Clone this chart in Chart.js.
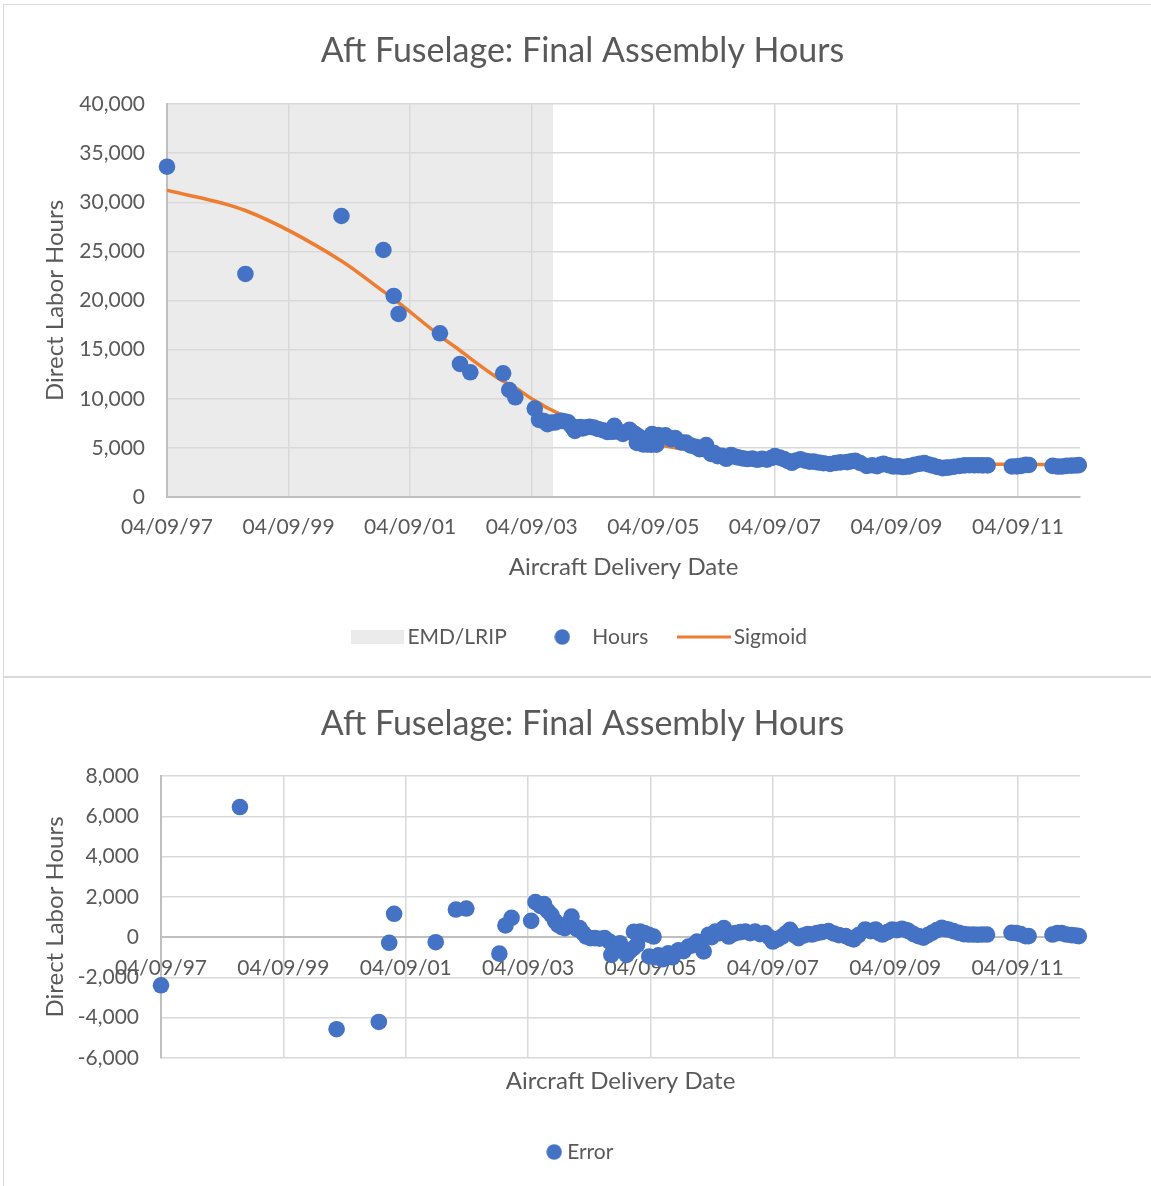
<!DOCTYPE html>
<html>
<head>
<meta charset="utf-8">
<script src="https://cdn.jsdelivr.net/npm/chart.js@4.4.0/dist/chart.umd.min.js"></script>
<style>
html,body{margin:0;padding:0;background:#fff;overflow:hidden;width:1151px;height:1186px;}
#box1{position:absolute;left:3px;top:4px;width:1200px;height:673px;border:1px solid #d9d9d9;box-sizing:border-box;}
#box2{position:absolute;left:3px;top:677px;width:1200px;height:600px;border:1px solid #d9d9d9;box-sizing:border-box;}
#c1{position:absolute;left:0;top:0;}
#c2{position:absolute;left:0;top:677px;}
</style>
</head>
<body>
<div id="box1"></div>
<div id="box2"></div>
<canvas id="c1" width="1160" height="676" style="width:1160px;height:676px"></canvas>
<canvas id="c2" width="1160" height="509" style="width:1160px;height:509px"></canvas>
<script>
// x values: years after first delivery (04/09/97)
const deliveryYears = [0.00,1.29,2.87,3.56,3.73,3.81,4.49,4.82,4.99,5.53,5.63,5.73,
6.05,6.12,6.20,6.26,6.32,6.38,6.44,6.49,6.55,6.60,6.66,6.71,6.76,6.80,6.84,6.90,6.95,
7.02,7.09,7.17,7.25,7.33,7.36,7.42,7.50,7.56,7.61,7.66,7.72,7.73,7.78,7.83,7.90,7.97,7.98,
8.05,8.08,8.13,8.20,8.29,8.36,8.46,8.54,8.62,8.70,8.76,8.82,8.87,8.95,
9.00,9.06,9.13,9.20,9.28,9.34,9.39,9.47,9.55,9.63,9.71,9.79,9.87,9.94,
10.00,10.08,10.15,10.22,10.28,10.35,10.42,10.50,10.57,10.64,10.72,10.80,10.91,
11.00,11.08,11.19,11.26,11.32,11.40,11.51,11.60,11.68,11.74,11.79,11.87,11.95,
12.03,12.11,12.18,12.22,12.30,12.38,12.46,12.53,12.60,12.68,12.76,12.82,12.87,12.95,
13.04,13.12,13.20,13.28,13.35,13.42,13.50,13.90,13.98,
14.05,14.13,14.18,14.57,14.65,14.72,14.80,14.88,14.95,15.00];

const hours = [33620,22700,28600,25140,20460,18630,16660,13540,12690,12590,10890,10150,
9005,7850,7724,7420,7575,7580,7705,7745,7685,7596,7185,6735,7100,7129,6985,7092,7150,
7075,6928,6797,6610,6635,7240,6655,6421,6625,6827,6570,6334,5500,6078,5350,5336,5326,6395,
5320,6315,6156,6277,5880,6010,5562,5538,5237,5099,4870,4903,5275,4387,
4471,4150,4185,3890,4263,4108,4029,3936,3864,3904,3786,3880,3794,3965,
4161,4011,3855,3660,3480,3716,3844,3690,3600,3600,3509,3438,3362,
3461,3525,3554,3640,3693,3463,3162,3228,3136,3307,3370,3239,3098,
3117,3047,3099,3144,3286,3377,3450,3313,3192,3050,2934,2989,3005,3079,
3157,3216,3232,3227,3233,3219,3214,3111,3122,
3169,3266,3264,3171,3099,3097,3165,3193,3211,3240];

const sigmoid = [31230,29160,24030,20930,20180,19790,16410,14910,14110,11770,11470,11110,
9815,9590,9274,9060,8875,8690,8505,8355,8185,8046,7885,7755,7630,7529,7435,7292,7180,
7025,6878,6717,6560,6415,6360,6255,6121,6025,5947,5870,5784,5770,5698,5630,5536,5446,5435,
5350,5315,5256,5177,5080,5010,4912,4838,4767,4699,4650,4603,4565,4507,
4471,4430,4385,4340,4293,4258,4229,4186,4144,4104,4066,4030,3994,3965,
3941,3911,3885,3860,3840,3816,3794,3770,3750,3730,3709,3688,3662,
3641,3625,3604,3590,3578,3563,3542,3528,3516,3507,3500,3489,3478,
3467,3457,3449,3444,3436,3427,3420,3413,3407,3400,3394,3389,3385,3379,
3372,3366,3362,3357,3353,3349,3344,3326,3322,
3319,3316,3314,3301,3299,3297,3295,3293,3291,3290];

const errors = [-2390,6460,-4570,-4210,-280,1160,-250,1370,1420,-820,580,960,
810,1740,1550,1640,1300,1110,800,610,500,450,700,1020,530,400,450,200,30,
-50,-50,-80,-50,-220,-880,-400,-300,-600,-880,-700,-550,270,-380,280,200,120,-960,
30,-1000,-900,-1100,-800,-1000,-650,-700,-470,-400,-220,-300,-710,120,
0,280,200,450,30,150,200,250,280,200,280,150,200,0,
-220,-100,30,200,360,100,-50,80,150,130,200,250,300,
180,100,50,-50,-115,100,380,300,380,200,130,250,380,
350,410,350,300,150,50,-30,100,215,350,460,400,380,300,
215,150,130,130,120,130,130,215,200,
150,50,50,130,200,200,130,100,80,50];

// EMD/LRIP shaded period
const emdYears = [0, 6.35];
const emdLevel = [40000, 40000];

const dateTicks = ['04/09/97','04/09/99','04/09/01','04/09/03','04/09/05','04/09/07','04/09/09','04/09/11'];
const xMax = 15.02;

const BLUE = '#4472c4', ORANGE = '#ed7d31', SHADE = '#ebebeb';
const GRID = '#d9d9d9', AXIS = '#bfbfbf', TEXT = '#595959';

function icon(w, h, draw) {
  const c = document.createElement('canvas');
  c.width = w; c.height = h;
  draw(c.getContext('2d'));
  return c;
}

function build() {
  Chart.defaults.font.family = "Lato, 'Open Sans', sans-serif";
  Chart.defaults.color = TEXT;

  const emdIcon = icon(53, 14, g => { g.fillStyle = SHADE; g.fillRect(0, 0, 53, 14); });
  const dotIcon = icon(16, 16, g => { g.fillStyle = BLUE; g.beginPath(); g.arc(8, 8, 7.7, 0, Math.PI * 2); g.fill(); });
  const lineIcon = icon(54, 4, g => { g.fillStyle = ORANGE; g.fillRect(0, 0.5, 54, 3); });

  const skipZero = ctx => (ctx.tick && ctx.tick.value === 0) ? 'rgba(0,0,0,0)' : GRID;
  const dateLabel = v => dateTicks[Math.round(v / 2)];
  const numLabel = v => Number(v).toLocaleString('en-US');
  const item = (text, img, i) => ({text, pointStyle: img, fillStyle: 'rgba(0,0,0,0)', strokeStyle: 'rgba(0,0,0,0)', lineWidth: 0, hidden: false, datasetIndex: i, fontColor: TEXT});
  const PADL = 5;

  // ---------- top chart ----------
  new Chart(document.getElementById('c1'), {
    type: 'scatter',
    data: {
      datasets: [
        { type: 'line', label: 'EMD/LRIP', data: emdYears.map((x, i) => ({x, y: emdLevel[i]})),
          fill: 'origin', backgroundColor: SHADE, borderColor: 'rgba(0,0,0,0)', borderWidth: 0,
          pointRadius: 0, showLine: true, order: 3 },
        { type: 'scatter', label: 'Hours', data: deliveryYears.map((x, i) => ({x, y: hours[i]})),
          pointRadius: 8.3, pointHoverRadius: 8.3, backgroundColor: BLUE, borderColor: BLUE,
          pointBorderWidth: 0, order: 1, clip: false },
        { type: 'line', label: 'Sigmoid', data: deliveryYears.map((x, i) => ({x, y: sigmoid[i]})),
          borderColor: ORANGE, borderWidth: 3.5, pointRadius: 0, fill: false, showLine: true,
          cubicInterpolationMode: 'monotone', order: 2 }
      ]
    },
    options: {
      responsive: false, animation: false, events: [],
      layout: { padding: { top: 0, left: PADL, right: 0, bottom: 18.5 } },
      plugins: {
        filler: { drawTime: 'beforeDraw' },
        tooltip: { enabled: false },
        title: { display: true, text: 'Aft Fuselage: Final Assembly Hours', color: TEXT,
          font: { size: 34, weight: 'normal' }, padding: { top: 30.6, bottom: 32.6 } },
        legend: { position: 'bottom',
          labels: { usePointStyle: true, pointStyleWidth: 39, padding: 36, color: TEXT,
            font: { size: 21 },
            generateLabels: () => [item('EMD/LRIP', emdIcon, 0), item('Hours', dotIcon, 1), item('Sigmoid', lineIcon, 2)] } }
      },
      scales: {
        x: { type: 'linear', min: 0, max: xMax,
          afterFit: s => { s.height = 93.5; },
          ticks: { stepSize: 2, includeBounds: false, padding: 17.4, maxRotation: 0, autoSkip: false,
            font: { size: 21 }, color: TEXT, callback: dateLabel },
          grid: { color: skipZero, lineWidth: 1.5, drawTicks: false },
          border: { color: AXIS, width: 2 },
          title: { display: true, text: 'Aircraft Delivery Date', color: TEXT, font: { size: 24 }, padding: { top: 0, bottom: 9.1 } } },
        y: { type: 'linear', min: 0, max: 40000,
          afterFit: s => { s.width = 167 - PADL; },
          ticks: { stepSize: 5000, padding: 22, font: { size: 21 }, color: TEXT, callback: numLabel },
          grid: { color: skipZero, lineWidth: 1.5, drawTicks: false },
          border: { color: AXIS, width: 2 },
          title: { display: true, text: 'Direct Labor Hours', color: TEXT, font: { size: 24 }, padding: { top: 40.6 - PADL, bottom: 0 } } },
        yR: { type: 'linear', position: 'right', display: true,
          afterFit: s => { s.width = 80; },
          grid: { display: false }, ticks: { display: false }, border: { display: false } }
      }
    }
  });

  // ---------- bottom chart ----------
  new Chart(document.getElementById('c2'), {
    type: 'scatter',
    data: {
      datasets: [
        { type: 'scatter', label: 'Error', data: deliveryYears.map((x, i) => ({x, y: errors[i]})),
          pointRadius: 8.3, pointHoverRadius: 8.3, backgroundColor: BLUE, borderColor: BLUE,
          pointBorderWidth: 0, clip: false }
      ]
    },
    options: {
      responsive: false, animation: false, events: [],
      layout: { padding: { top: 0, left: PADL, right: 0, bottom: 13.5 } },
      plugins: {
        tooltip: { enabled: false },
        title: { display: true, text: 'Aft Fuselage: Final Assembly Hours', color: TEXT,
          font: { size: 34, weight: 'normal' }, padding: { top: 26.6, bottom: 31.6 } },
        legend: { position: 'bottom',
          labels: { usePointStyle: true, pointStyleWidth: 5, padding: 36, color: TEXT,
            font: { size: 21 },
            generateLabels: () => [item('Error', dotIcon, 0)] } }
      },
      scales: {
        x: { type: 'linear', position: 'bottom', min: 0, max: xMax,
          afterFit: s => { s.height = 47.5; },
          ticks: { display: false, stepSize: 2, includeBounds: false, autoSkip: false },
          grid: { color: skipZero, lineWidth: 1.5, drawTicks: false },
          border: { display: false },
          title: { display: true, text: 'Aircraft Delivery Date', color: TEXT, font: { size: 24 }, padding: { top: 0, bottom: 10.1 } } },
        x2: { type: 'linear', position: { y: 0 }, min: 0, max: xMax,
          ticks: { stepSize: 2, includeBounds: false, padding: 18.3, maxRotation: 0, autoSkip: false,
            font: { size: 21 }, color: TEXT, callback: dateLabel },
          grid: { drawOnChartArea: false, drawTicks: false },
          border: { color: AXIS, width: 2 } },
        y: { type: 'linear', min: -6000, max: 8000,
          afterFit: s => { s.width = 161 - PADL; },
          ticks: { stepSize: 2000, padding: 22, font: { size: 21 }, color: TEXT, callback: numLabel },
          grid: { color: skipZero, lineWidth: 1.5, drawTicks: false },
          border: { color: AXIS, width: 2 },
          title: { display: true, text: 'Direct Labor Hours', color: TEXT, font: { size: 24 }, padding: { top: 40.6 - PADL, bottom: 0 } } },
        yR: { type: 'linear', position: 'right', display: true,
          afterFit: s => { s.width = 80; },
          grid: { display: false }, ticks: { display: false }, border: { display: false } }
      }
    }
  });
}

if (document.fonts && document.fonts.load) {
  Promise.all([document.fonts.load('21px Lato'), document.fonts.load('34px Lato')]).then(build, build);
} else {
  build();
}
</script>
</body>
</html>
